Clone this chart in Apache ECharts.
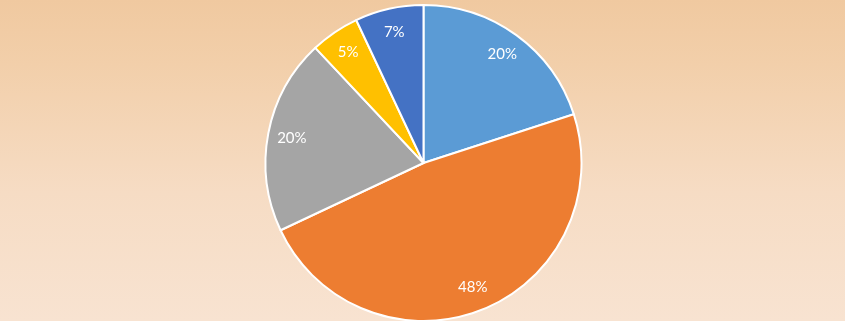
<!DOCTYPE html>
<html>
<head>
<meta charset="utf-8">
<script src="https://cdn.jsdelivr.net/npm/echarts@6/dist/echarts.min.js"></script>
<style>
html,body{margin:0;padding:0;}
#chart{width:845px;height:321px;background:linear-gradient(to bottom,#F0C9A0 0%,#F2CFAA 20%,#F6DCC4 60%,#F8E3D1 100%);}
</style>
</head>
<body>
<div id="chart"></div>
<script>
const categories = ['A', 'B', 'C', 'D', 'E'];
const values = [20, 48, 20, 5, 7];
const labels = ['20%', '48%', '20%', '5%', '7%'];
const colors = ['#5B9BD5', '#ED7D31', '#A5A5A5', '#FFC000', '#4472C4'];

const chart = echarts.init(document.getElementById('chart'), null, {renderer: 'canvas'});
const pieData = categories.map((c, i) => ({name: c, value: values[i], itemStyle: {color: colors[i]}}));
const labelData = categories.map((c, i) => ({name: c, value: values[i], label: {formatter: labels[i]}}));

chart.setOption({
  animation: false,
  backgroundColor: 'transparent',
  series: [
    {
      type: 'pie',
      center: [423.5, 163],
      radius: [0, 158],
      startAngle: 90,
      clockwise: true,
      silent: true,
      label: {show: false},
      labelLine: {show: false},
      itemStyle: {borderColor: '#FFFFFF', borderWidth: 2},
      data: pieData
    },
    {
      type: 'pie',
      center: [423.5, 163],
      radius: [104, 158],
      startAngle: 90,
      clockwise: true,
      silent: true,
      itemStyle: {color: 'rgba(0,0,0,0)', borderWidth: 0},
      label: {show: true, position: 'inside', color: '#FFFFFF', fontSize: 15, fontFamily: 'Lato, "Open Sans", sans-serif'},
      labelLine: {show: false},
      data: labelData
    }
  ]
});
</script>
</body>
</html>
